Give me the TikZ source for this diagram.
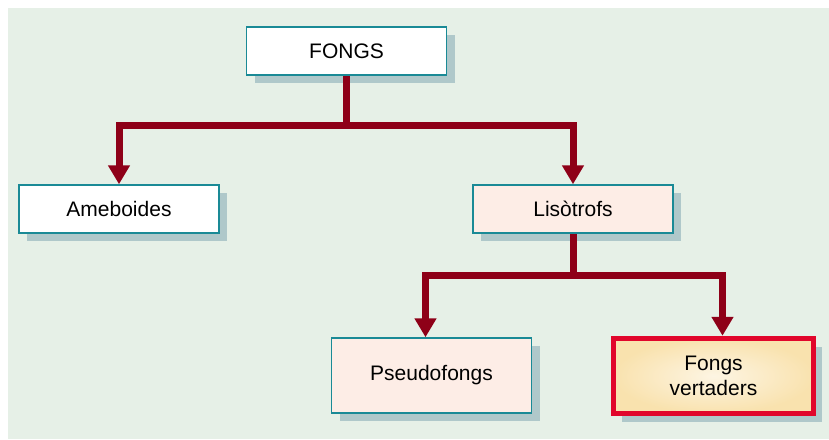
\documentclass[tikz,border=0pt]{standalone}
\usepackage{fontspec}
\setmainfont{Liberation Sans}
\usepackage{tikz}
\usetikzlibrary{arrows.meta,positioning,shadows}
\definecolor{bgc}{HTML}{E6F0E7}
\definecolor{tealc}{HTML}{1A8A96}
\definecolor{shadowc}{HTML}{AFC8CA}
\definecolor{linkc}{HTML}{8E0018}
\definecolor{redc}{HTML}{E1062B}
\definecolor{pinkc}{HTML}{FDEDE6}
\definecolor{yelc}{HTML}{F9E2AE}
\tikzstyle{box}=[draw=tealc,line width=1.5pt,fill=white,minimum width=200pt,minimum height=48pt,
  align=center,font=\fontsize{21}{25}\selectfont,
  drop shadow={shadow xshift=8pt,shadow yshift=-8pt,fill=shadowc,opacity=1}]
\tikzstyle{link}=[draw=linkc,line width=7pt,-{Triangle[width=21pt,length=19pt]}]

\begin{document}
\begin{tikzpicture}[x=1pt,y=-1pt]
\useasboundingbox (0,0) rectangle (829,439);
\fill[bgc] (8,8) rectangle (829,439);
\node [box] (fongs) at (346.5,51) {FONGS};
\node [box] (ameb) at (119,209) {Ameboides};
\node [box,fill=pinkc] (lisot) at (573,209) {Lisòtrofs};
\node [box,fill=pinkc,minimum height=75pt] (pseudo) at (431.5,375.5) {Pseudofongs};
\node [box,draw=redc,line width=5.5pt,minimum width=200pt,minimum height=75pt,
  inner color=yelc!35,outer color=yelc] (vert) at (713.5,376) {Fongs\\vertaders};
\coordinate (j1) at (346.5,125);
\coordinate (j2) at (573,275);
\draw [link] (fongs.south) -- (j1) -| (ameb.north);
\draw [link] (j1) -| (lisot.north);
\draw [link] (lisot.south) -- (j2) -| ([xshift=-6pt]pseudo.north);
\draw [link] (j2) -| ([xshift=9pt]vert.north);
\end{tikzpicture}
\end{document}
